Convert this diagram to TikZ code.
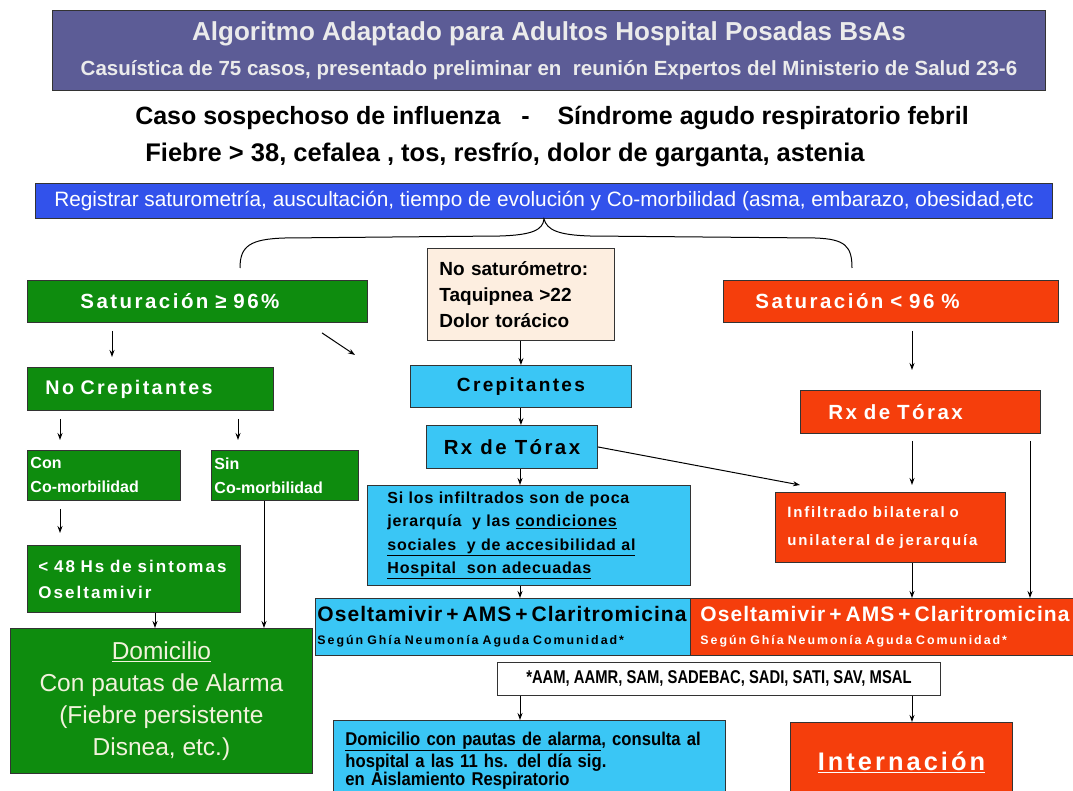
\documentclass[tikz,border=0pt]{standalone}
\usepackage{fontspec}
\setmainfont{Liberation Sans}
\newfontfamily\narrowfont[FakeStretch=0.8]{Liberation Sans}
\newfontfamily\condfont[FakeStretch=0.9]{Liberation Sans}
\newfontfamily\medfont[LetterSpace=5]{Liberation Sans}
\newfontfamily\spacedfont[LetterSpace=12]{Liberation Sans}
\newfontfamily\widefont[LetterSpace=16]{Liberation Sans}
\usetikzlibrary{arrows.meta}

\definecolor{titlebg}{RGB}{92,92,150}
\definecolor{regblue}{RGB}{50,82,235}
\definecolor{ggreen}{RGB}{14,140,14}
\definecolor{rred}{RGB}{245,62,12}
\definecolor{lblue}{RGB}{58,198,245}
\definecolor{peach}{RGB}{253,238,224}
\definecolor{cream}{RGB}{242,242,220}

\newcommand{\fsz}[2]{\fontsize{#1}{#2}\selectfont}

\tikzset{
  box/.style={draw=black!80, line width=0.9pt, anchor=north west, inner ysep=2pt},
  greenbox/.style={box, fill=ggreen, text=white},
  redbox/.style={box, fill=rred, text=white},
  bluebox/.style={box, fill=lblue, text=black},
  arr/.style={-{Stealth[length=7pt,width=5pt]}, line width=1pt},
}

\begin{document}
\begin{tikzpicture}[x=1pt, y=-1pt]
        \fill[white] (0,0) rectangle (1073,791);
        \useasboundingbox (0,0) rectangle (1073,791);

        % Header
        \node[box, fill=titlebg, minimum width=993, minimum height=80, align=center, text=white!92!black, font=\fsz{20}{35}] (title) at (52,10)
          {{\bfseries\fsz{26}{35}Algoritmo Adaptado para Adultos Hospital Posadas BsAs}\\
           {\bfseries\fsz{20.5}{35}Casuística de 75 casos, presentado preliminar en\ \ reunión Expertos del Ministerio de Salud 23-6}};
        \node[font=\bfseries\fsz{25}{28}] (caso) at (552,118)
          {Caso sospechoso de influenza\ \ \ -\ \ \ \ Síndrome agudo respiratorio febril};
        \node[font=\bfseries\fsz{25.5}{28}] (fiebre) at (505,155)
          {Fiebre > 38, cefalea , tos, resfrío, dolor de garganta, astenia};
        \node[box, fill=regblue, minimum width=1017, minimum height=35, text=white, font=\fsz{20.8}{24}] (reg) at (35,183)
          {Registrar saturometría, auscultación, tiempo de evolución y Co-morbilidad (asma, embarazo, obesidad,etc};

        % Brace
        \draw[line width=1pt] (240,268) .. controls (240,246) and (250,239) .. (285,238) -- (500,236)
          .. controls (532,235) and (543,230) .. (reg.south)
          .. controls (547,230) and (558,235) .. (590,236) -- (815,238)
          .. controls (845,239) and (852,246) .. (852,268);

        % Left branch
        \node[greenbox, minimum height=42, inner xsep=53, text width=234, align=left, font=\spacedfont\bfseries\fsz{20.5}{24}] (satok) at (27,280) {Saturación ≥ 96\%};
        \node[greenbox, minimum height=43, inner xsep=18, text width=210, align=left, font=\spacedfont\bfseries\fsz{19.7}{22}] (nocrep) at (27,367) {No Crepitantes};
        \node[greenbox, minimum height=50, inner xsep=3, text width=147, align=left, font=\bfseries\fsz{16}{24}] (con) at (27,450) {Con\\Co-morbilidad};
        \node[greenbox, minimum height=50, inner xsep=3, text width=141, align=left, font=\bfseries\fsz{16}{24}] (sin) at (211,450) {Sin\\Co-morbilidad};
        \node[greenbox, minimum height=67, inner xsep=11, text width=191, align=left, font=\spacedfont\bfseries\fsz{17}{26}] (h48) at (27,545) {< 48 Hs de sintomas\\Oseltamivir};
        \node[box, fill=ggreen, text=cream, minimum width=302, minimum height=145, align=center, font=\fsz{24.5}{32}] (domg) at (10,628)
          {\underline{Domicilio}\\Con pautas de Alarma\\(Fiebre persistente\\Disnea, etc.)};

        % Middle branch
        \node[box, fill=peach, minimum height=92, inner xsep=12, text width=163, align=left, font=\bfseries\fsz{19}{26}] (nosat) at (427,248)
          {No saturómetro:\\Taquipnea >22\\Dolor torácico};
        \node[bluebox, minimum width=221, minimum height=42, font=\spacedfont\bfseries\fsz{19.1}{22}] (crep) at (410,365) {Crepitantes};
        \node[bluebox, minimum width=171, minimum height=43, font=\spacedfont\bfseries\fsz{20.4}{22}] (rxb) at (426,425) {Rx de Tórax};
        \node[bluebox, minimum height=100, inner xsep=20, text width=283, align=left, font=\medfont\bfseries\fsz{16}{23.5}] (silos) at (367,485)
          {Si los infiltrados son de poca\\jerarquía\ \ y las \underline{condiciones}\\\underline{sociales\ \ y de accesibilidad al}\\\underline{Hospital\ \ son adecuadas}};
        \node[bluebox, minimum height=57, inner xsep=2, text width=371, align=left, font=\fsz{12}{23}] (oselb) at (315,598)
          {{\medfont\bfseries\fsz{21}{23}Oseltamivir + AMS + Claritromicina}\\{\widefont\bfseries\fsz{12.4}{23}Según Ghía Neumonía Aguda Comunidad*}};
        \node[box, fill=white, minimum width=443, minimum height=33, font=\narrowfont\bfseries\fsz{18.5}{22}] (foot) at (497,662)
          {*AAM, AAMR, SAM, SADEBAC, SADI, SATI, SAV, MSAL};
        \node[bluebox, minimum height=80, inner xsep=12, text width=368, align=left, font=\condfont\bfseries\fsz{18.5}{18}] (domb) at (333,720)
          {\underline{Domicilio con pautas de alarma}, consulta al\\[2pt]hospital a las 11 hs. del día sig.\\en Aislamiento Respiratorio};

        % Right branch
        \node[redbox, minimum height=42, inner xsep=32, text width=271, align=left, font=\spacedfont\bfseries\fsz{20.5}{24}] (satlow) at (723,280) {Saturación < 96 \%};
        \node[redbox, minimum height=43, inner xsep=28, text width=184, align=left, font=\spacedfont\bfseries\fsz{20.5}{22}] (rxr) at (800,390) {Rx de Tórax};
        \node[redbox, minimum height=70, inner xsep=12, text width=206, align=left, font=\spacedfont\bfseries\fsz{15}{28}] (infil) at (775,492)
          {Infiltrado bilateral o\\unilateral de jerarquía};
        \node[redbox, minimum height=57, inner xsep=10, text width=370, align=left, font=\fsz{12}{23}] (oselr) at (690,598)
          {{\medfont\bfseries\fsz{21}{23}Oseltamivir + AMS + Claritromicina}\\{\widefont\bfseries\fsz{12.4}{23}Según Ghía Neumonía Aguda Comunidad*}};
        \node[redbox, minimum width=222, minimum height=80, font=\spacedfont\bfseries\fsz{25.4}{28}] (intern) at (790,722) {\underline{Internación}};

        % Arrows
        \coordinate (diagtip) at (355,355);
        \draw[arr] ([xshift=85,yshift=-8]satok.south west) -- ([xshift=85,yshift=10]nocrep.north west);
        \draw[arr] ([xshift=295,yshift=-10]satok.south west) -- (diagtip);
        \draw[arr] ([xshift=33,yshift=-8]nocrep.south west) -- ([xshift=33,yshift=10]con.north west);
        \draw[arr] ([xshift=211,yshift=-8]nocrep.south west) -- ([xshift=27,yshift=10]sin.north west);
        \draw[arr] ([xshift=33,yshift=-8]con.south west) -- ([xshift=33,yshift=12]h48.north west);
        \draw[arr] ([xshift=128]h48.south west) -- ([xshift=145]domg.north west);
        \draw[arr] ([xshift=53]sin.south west) -- ([xshift=254]domg.north west);
        \draw[arr] (nosat.south) -- (crep.north);
        \draw[arr] (crep.south) -- (crep.south |- rxb.north);
        \draw[arr] ([xshift=94]rxb.south west) -- ([xshift=153]silos.north west);
        \draw[arr] (rxb.east) -- ([xshift=25,yshift=7]infil.north west);
        \draw[arr] ([xshift=153]silos.south west) -- ([xshift=205]oselb.north west);
        \draw[arr] ([xshift=189,yshift=-8]satlow.south west) -- ([xshift=112,yshift=20]rxr.north west);
        \draw[arr] ([xshift=112,yshift=-7]rxr.south west) -- ([xshift=137,yshift=7]infil.north west);
        \draw[arr] ([xshift=230,yshift=-7]rxr.south west) -- ([xshift=340]oselr.north west);
        \draw[arr] ([xshift=137]infil.south west) -- ([xshift=222]oselr.north west);
        \draw[arr] ([xshift=23]foot.south west) -- ([xshift=187]domb.north west);
        \draw[arr] ([xshift=415]foot.south west) -- ([xshift=122]intern.north west);
    \end{tikzpicture}
\end{document}
